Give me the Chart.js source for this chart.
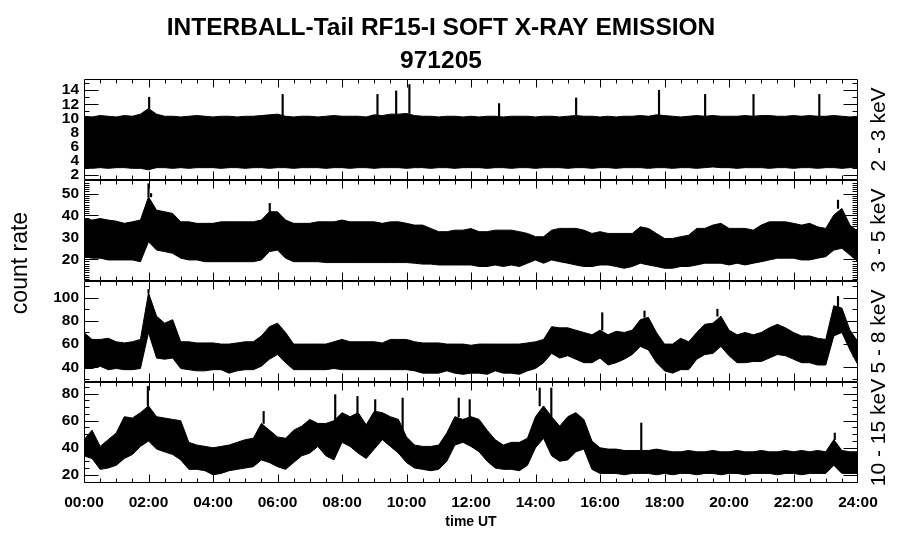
<!DOCTYPE html>
<html>
<head>
<meta charset="utf-8">
<script src="https://cdn.jsdelivr.net/npm/chart.js@4"></script>
<style>
  html, body { margin: 0; padding: 0; background: #fff; }
  #wrap { position: relative; width: 900px; height: 548px; }
</style>
</head>
<body>
<div id="wrap"><canvas id="c" width="900" height="548"></canvas></div>
<script>
'use strict';

// --- data (envelopes of the count rate, one value every 15 min, 00:00 .. 24:00) ---
var STEP_H = 0.25;

// 2 - 3 keV
var p1Hi = [
  10.3, 10.2, 10.4, 10.3, 10.2, 10.4, 10.3, 10.6,
  11.4, 10.6, 10.3, 10.3, 10.2, 10.3, 10.4, 10.3,
  10.2, 10.3, 10.3, 10.2, 10.3, 10.3, 10.4, 10.5,
  10.6, 10.3, 10.2, 10.3, 10.3, 10.2, 10.3, 10.4,
  10.3, 10.3, 10.3, 10.2, 10.5, 10.4, 10.6, 10.6,
  10.7, 10.4, 10.3, 10.3, 10.2, 10.3, 10.3, 10.2,
  10.3, 10.2, 10.3, 10.3, 10.2, 10.3, 10.3, 10.3,
  10.2, 10.3, 10.3, 10.2, 10.3, 10.4, 10.3, 10.3,
  10.2, 10.3, 10.2, 10.3, 10.3, 10.4, 10.3, 10.5,
  10.4, 10.3, 10.2, 10.3, 10.4, 10.3, 10.4, 10.3,
  10.3, 10.3, 10.4, 10.3, 10.4, 10.4, 10.3, 10.3,
  10.4, 10.3, 10.4, 10.3, 10.3, 10.4, 10.3, 10.2,
  10.3
];
var p1Lo = [
  3.0, 2.9, 3.0, 2.9, 3.0, 3.0, 2.9, 2.9,
  2.7, 3.0, 3.0, 2.9, 3.0, 2.9, 3.0, 3.0,
  3.0, 2.9, 3.0, 3.0, 2.9, 3.0, 3.0, 2.9,
  3.0, 3.0, 2.9, 3.0, 3.0, 3.0, 2.9, 3.0,
  3.0, 2.9, 3.0, 3.0, 2.9, 3.0, 3.0, 3.0,
  2.9, 3.0, 3.0, 2.9, 3.0, 3.0, 2.9, 3.0,
  3.0, 3.0, 2.9, 3.0, 3.0, 2.9, 3.0, 3.0,
  2.9, 3.0, 3.0, 3.0, 2.9, 3.0, 3.0, 2.9,
  3.0, 3.0, 2.9, 3.0, 3.0, 3.0, 2.9, 3.0,
  3.0, 2.9, 3.0, 3.0, 2.9, 3.0, 3.1, 3.0,
  3.0, 2.9, 3.0, 3.0, 3.0, 2.9, 3.0, 3.0,
  2.9, 3.0, 3.0, 2.9, 3.0, 3.0, 2.9, 3.0,
  3.0
];
var p1SpikeT = [2.02, 6.16, 9.10, 9.68, 10.09, 12.87, 15.26, 17.83, 19.26, 20.76, 22.80];
var p1SpikeV = [13.0, 13.4, 13.4, 13.9, 14.8, 12.1, 12.9, 14.0, 13.4, 13.4, 13.4];

// 3 - 5 keV
var p2Hi = [
  38.6, 37.9, 38.6, 37.9, 37.4, 36.4, 37.1, 37.9,
  48.5, 42.4, 41.7, 40.9, 37.1, 37.1, 36.4, 36.4,
  36.4, 37.1, 37.1, 37.1, 37.1, 37.1, 37.9, 41.7,
  41.7, 37.9, 36.4, 36.4, 36.4, 37.1, 37.1, 37.1,
  37.9, 37.1, 37.1, 37.1, 37.1, 36.4, 37.1, 37.1,
  36.4, 35.6, 35.6, 34.1, 32.6, 32.6, 33.3, 33.3,
  34.0, 32.6, 32.6, 33.3, 33.3, 33.3, 32.6, 31.8,
  30.3, 30.3, 33.3, 34.1, 34.1, 34.1, 33.3, 31.8,
  32.6, 31.8, 31.8, 31.8, 31.8, 34.8, 34.1, 31.8,
  29.5, 29.5, 30.3, 31.0, 34.1, 34.1, 35.6, 36.4,
  34.1, 34.1, 34.1, 33.3, 35.6, 37.1, 37.1, 37.1,
  36.4, 35.6, 36.4, 34.8, 34.1, 40.2, 43.2, 35.6,
  32.6
];
var p2Lo = [
  21.2, 20.5, 20.5, 19.7, 19.7, 19.7, 19.7, 18.9,
  28.0, 24.2, 23.5, 22.7, 20.5, 19.7, 19.7, 18.9,
  18.9, 18.9, 18.9, 18.9, 18.9, 18.9, 19.7, 23.5,
  24.2, 20.5, 18.9, 18.9, 18.9, 18.9, 18.5, 18.5,
  18.5, 18.5, 18.5, 18.5, 18.5, 18.5, 18.5, 18.5,
  18.5, 18.2, 17.8, 17.8, 17.4, 17.4, 17.4, 17.4,
  17.4, 16.7, 16.7, 17.4, 16.7, 17.4, 16.7, 18.2,
  19.7, 18.2, 19.7, 18.9, 18.2, 17.4, 16.7, 16.7,
  17.4, 17.4, 16.7, 15.9, 16.7, 18.2, 17.4, 16.7,
  15.9, 15.9, 16.7, 16.7, 17.4, 18.2, 18.2, 18.2,
  17.4, 18.2, 17.4, 18.2, 18.9, 19.7, 20.5, 20.5,
  20.5, 19.7, 19.7, 20.5, 21.2, 24.2, 25.0, 22.0,
  18.9
];
var p2SpikeT = [2.00, 2.08, 5.76, 23.38];
var p2SpikeV = [54.5, 50.0, 45.5, 47.0];

// 5 - 8 keV
var p3Hi = [
  70, 64, 64, 65, 62, 61, 62, 64,
  104, 84, 78, 81, 62, 62, 61, 61,
  61, 60, 60, 61, 62, 62, 67, 75,
  78, 70, 60, 60, 60, 60, 60, 62,
  64, 62, 62, 62, 62, 61, 64, 64,
  64, 62, 61, 61, 61, 60, 60, 60,
  59, 60, 60, 60, 60, 60, 60, 61,
  62, 64, 75, 74, 74, 72, 70, 68,
  72, 68, 71, 70, 72, 81, 83, 70,
  60, 60, 65, 62, 70, 77, 78, 84,
  72, 68, 70, 68, 70, 74, 77, 74,
  70, 67, 67, 65, 64, 93, 91, 72,
  62
];
var p3Lo = [
  39, 39, 41, 38, 39, 38, 38, 39,
  70, 48, 47, 48, 39, 38, 37, 37,
  38, 38, 35, 37, 38, 38, 41, 47,
  51, 44, 38, 38, 38, 38, 38, 39,
  38, 38, 38, 38, 38, 38, 38, 38,
  38, 37, 35, 35, 35, 37, 35, 34,
  35, 35, 34, 37, 35, 35, 34, 37,
  39, 44, 52, 48, 50, 47, 44, 44,
  48, 42, 44, 47, 51, 58, 55, 44,
  37, 35, 38, 38, 47, 51, 52, 58,
  50, 44, 44, 45, 45, 48, 51, 50,
  47, 44, 44, 42, 42, 67, 70, 55,
  42
];
var p3SpikeT = [2.00, 16.07, 17.38, 19.64, 23.38];
var p3SpikeV = [107, 87, 88.5, 90, 101];

// 10 - 15 keV
var p4Hi = [
  46, 53, 41, 46, 51, 63, 62, 66,
  71, 63, 62, 61, 60, 44, 42, 41,
  40, 41, 42, 44, 46, 47, 58, 53,
  48, 47, 53, 56, 61, 58, 58, 60,
  66, 63, 66, 57, 67, 66, 63, 61,
  48, 42, 41, 41, 42, 51, 63, 61,
  63, 61, 53, 46, 42, 44, 44, 47,
  63, 71, 63, 56, 63, 66, 61, 45,
  40, 39, 39, 38, 38, 38, 38, 39,
  38, 37, 37, 38, 37, 37, 38, 37,
  37, 38, 37, 37, 38, 37, 37, 38,
  37, 38, 37, 38, 37, 46, 38, 37,
  37
];
var p4Lo = [
  34, 32, 24, 25, 27, 32, 35, 41,
  45, 39, 37, 35, 31, 24, 24, 23,
  20, 21, 23, 24, 25, 26, 31, 29,
  26, 24, 29, 34, 36, 41, 34, 31,
  44, 41, 36, 32, 39, 46, 41, 36,
  29, 25, 24, 23, 24, 30, 42, 44,
  41, 37, 30, 25, 24, 24, 23, 27,
  40, 47, 34, 30, 31, 37, 39, 24,
  21, 21, 21, 20, 21, 21, 21, 20,
  21, 20, 21, 21, 20, 21, 21, 20,
  21, 21, 20, 21, 21, 21, 20, 21,
  21, 20, 21, 21, 21, 27, 21, 21,
  21
];
var p4SpikeT = [1.98, 5.57, 7.79, 8.48, 9.03, 9.88, 11.62, 11.96, 14.13, 14.49, 17.28, 23.28];
var p4SpikeV = [85.4, 66.9, 79.3, 78.0, 75.6, 76.8, 76.8, 75.6, 84.2, 84.2, 58.3, 50.9];

// axis ticks / labels
var X_TICKS = [0, 2, 4, 6, 8, 10, 12, 14, 16, 18, 20, 22, 24];
var X_LABELS = ['00:00', '02:00', '04:00', '06:00', '08:00', '10:00', '12:00',
                '14:00', '16:00', '18:00', '20:00', '22:00', '24:00'];
var Y1_TICKS = [2, 4, 6, 8, 10, 12, 14];
var Y2_TICKS = [20, 30, 40, 50];
var Y3_TICKS = [40, 60, 80, 100];
var Y4_TICKS = [20, 40, 60, 80];

var TITLE = ['INTERBALL-Tail RF15-I SOFT X-RAY EMISSION', '971205'];
var FONT = "'Liberation Sans', Arial, Helvetica, sans-serif";

// panels, top to bottom
var PANELS = [
  {id: 'y1', label: '2 - 3 keV',   hi: p1Hi, lo: p1Lo, spT: p1SpikeT, spV: p1SpikeV, ticks: Y1_TICKS, minor: 1,  min: 1.25, max: 15.6},
  {id: 'y2', label: '3 - 5 keV',   hi: p2Hi, lo: p2Lo, spT: p2SpikeT, spV: p2SpikeV, ticks: Y2_TICKS, minor: 1,  min: 10.1, max: 56.2},
  {id: 'y3', label: '5 - 8 keV',   hi: p3Hi, lo: p3Lo, spT: p3SpikeT, spV: p3SpikeV, ticks: Y3_TICKS, minor: 10, min: 27.4, max: 114.3},
  {id: 'y4', label: '10 - 15 keV', hi: p4Hi, lo: p4Lo, spT: p4SpikeT, spV: p4SpikeV, ticks: Y4_TICKS, minor: 5,  min: 13.9, max: 88.7}
];

var hours = p1Hi.map(function(_, i) { return i * STEP_H; });

// datasets: filled band between the envelopes + single spikes as thin floating bars
var datasets = [];
PANELS.forEach(function(p) {
  datasets.push({
    type: 'line', yAxisID: p.id,
    data: p.hi.map(function(v, i) { return {x: hours[i], y: v}; }),
    borderColor: '#000', borderWidth: 1, pointRadius: 0, tension: 0,
    backgroundColor: '#000', fill: '+1'
  });
  datasets.push({
    type: 'line', yAxisID: p.id,
    data: p.lo.map(function(v, i) { return {x: hours[i], y: v}; }),
    borderColor: '#000', borderWidth: 1, pointRadius: 0, tension: 0,
    fill: false
  });
  datasets.push({
    type: 'bar', yAxisID: p.id, grouped: false,
    data: p.spT.map(function(t, i) {
      var base = p.hi[Math.round(t / STEP_H)];
      return {x: t, y: [base, p.spV[i]]};
    }),
    backgroundColor: '#000', barThickness: 1.5
  });
});

function panelAxis(p) {
  return {
    type: 'linear', position: 'left', stack: 'panels', stackWeight: 1,
    min: p.min, max: p.max,
    grid: {display: false, drawTicks: false},
    border: {display: false},
    ticks: {color: '#000', font: {family: FONT, size: 15.5, weight: 'bold'}, padding: 5, autoSkip: false},
    afterBuildTicks: function(s) { s.ticks = p.ticks.map(function(v) { return {value: v}; }); },
    afterFit: function(s) { s.width = 72; }
  };
}

// frame, inward tick marks, side labels (IDL look)
var idlFrame = {
  id: 'idlFrame',
  afterDatasetsDraw: function(chart) {
    var ctx = chart.ctx, xs = chart.scales.x;
    var L = Math.round(xs.left) + 0.5, R = Math.round(xs.right) - 0.5;
    ctx.save();
    ctx.strokeStyle = '#000';
    ctx.lineWidth = 1;
    PANELS.forEach(function(p) {
      var ys = chart.scales[p.id];
      var T = Math.round(ys.top) + 0.5, B = Math.round(ys.bottom) - 0.5;
      ctx.beginPath();
      ctx.rect(L, T, R - L, B - T);
      // time ticks every 30 min, long ones every 2 h
      for (var h = 0.5; h < 24; h += 0.5) {
        var px = Math.round(xs.getPixelForValue(h)) + 0.5;
        var len = (h % 2 === 0) ? 8 : 4;
        ctx.moveTo(px, T); ctx.lineTo(px, T + len);
        ctx.moveTo(px, B); ctx.lineTo(px, B - len);
      }
      // minor count-rate ticks
      for (var v = Math.ceil(p.min / p.minor) * p.minor; v <= p.max; v += p.minor) {
        var py = Math.round(ys.getPixelForValue(v)) + 0.5;
        ctx.moveTo(L, py); ctx.lineTo(L + 5, py);
        ctx.moveTo(R, py); ctx.lineTo(R - 5, py);
      }
      p.ticks.forEach(function(v) {
        var py = Math.round(ys.getPixelForValue(v)) + 0.5;
        ctx.moveTo(L, py); ctx.lineTo(L + 14, py);
        ctx.moveTo(R, py); ctx.lineTo(R - 14, py);
      });
      ctx.stroke();

      ctx.save();
      ctx.fillStyle = '#000';
      ctx.font = '21px ' + FONT;
      ctx.textAlign = 'center';
      ctx.textBaseline = 'middle';
      ctx.translate(879, (ys.top + ys.bottom) / 2);
      ctx.rotate(-Math.PI / 2);
      ctx.fillText(p.label, 0, 0);
      ctx.restore();
    });

    ctx.fillStyle = '#000';
    ctx.font = '23px ' + FONT;
    ctx.textAlign = 'center';
    ctx.textBaseline = 'middle';
    ctx.translate(21, 263);
    ctx.rotate(-Math.PI / 2);
    ctx.fillText('count rate', 0, 0);
    ctx.restore();
  }
};

var scales = {
  x: {
    type: 'linear', position: 'bottom', min: 0, max: 24, offset: false,
    grid: {display: false, drawTicks: false, offset: false},
    border: {display: false},
    afterBuildTicks: function(s) { s.ticks = X_TICKS.map(function(v) { return {value: v}; }); },
    ticks: {
      color: '#000', font: {family: FONT, size: 15.5, weight: 'bold'}, padding: 10,
      maxRotation: 0, autoSkip: false,
      callback: function(v, i) { return X_LABELS[i]; }
    },
    title: {display: true, text: 'time UT', color: '#000',
            font: {family: FONT, size: 14, weight: 'bold'}, padding: {top: 0, bottom: 17}},
    afterFit: function(s) { s.height = 65; }
  },
  yr: {
    type: 'linear', position: 'right', min: 0, max: 1,
    grid: {display: false, drawTicks: false}, border: {display: false},
    ticks: {display: false},
    afterFit: function(s) { s.width = 12; }
  }
};
// bottom panel first: stacked left axes are placed bottom-up
PANELS.slice().reverse().forEach(function(p) { scales[p.id] = panelAxis(p); });

new Chart(document.getElementById('c'), {
  type: 'line',
  data: {datasets: datasets},
  options: {
    responsive: false,
    animation: false,
    devicePixelRatio: 1,
    layout: {padding: {left: 12, right: 30, top: 0, bottom: 0}},
    plugins: {
      legend: {display: false},
      tooltip: {enabled: false},
      title: {
        display: true, text: TITLE, color: '#000',
        font: {family: FONT, size: 24.5, weight: 'bold', lineHeight: 1.35},
        padding: {top: 11.5, bottom: 1.3}
      }
    },
    scales: scales
  },
  plugins: [idlFrame]
});
</script>
</body>
</html>
